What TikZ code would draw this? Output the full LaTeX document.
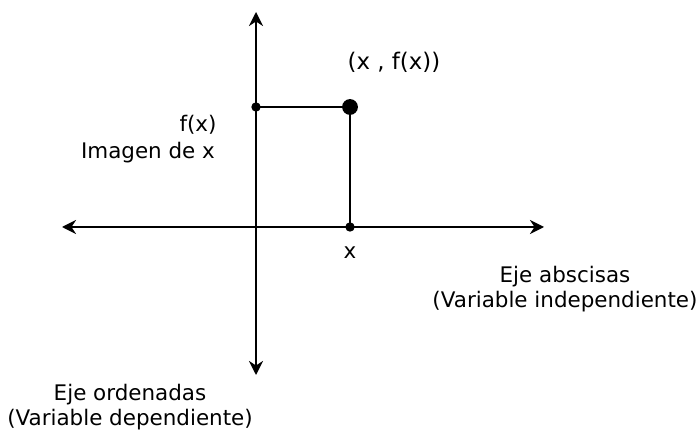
\documentclass[tikz,border=0pt]{standalone}
\usepackage{fontspec}
\setmainfont{DejaVu Sans}
\usetikzlibrary{arrows.meta,positioning}
\tikzset{
  axis/.style={line width=1.6pt, -{Stealth[length=12pt,width=12pt]}},
  guide/.style={line width=1.6pt},
  dotsmall/.style={circle, fill=black, inner sep=0pt, minimum size=8pt},
  dotbig/.style={circle, fill=black, inner sep=0pt, minimum size=13.5pt},
  lbl/.style={font=\fontsize{18.3}{22}\selectfont, align=center, inner sep=1pt}
}
\begin{document}
\begin{tikzpicture}[x=0.03cm,y=-0.03cm]
  \useasboundingbox (0,0) rectangle (699,432);
  % ejes
  \coordinate (O) at (256,227);
  \coordinate (ytop) at (256,12);
  \coordinate (ybot) at (256,375);
  \coordinate (xleft) at (62,227);
  \coordinate (xright) at (544,227);
  \draw[axis] (O) -- (ytop);
  \draw[axis] (O) -- (ybot);
  \draw[axis] (O) -- (xleft);
  \draw[axis] (O) -- (xright);
  % punto y proyecciones
  \node[dotsmall] (fxdot) at (256,107) {};
  \node[dotbig] (pt) at (350,107) {};
  \node[dotsmall] (xdot) at (350,227) {};
  \draw[guide] (fxdot.center) -- (pt.center) -- (xdot.center);
  % etiquetas
  \node[lbl, font=\fontsize{19.5}{22}\selectfont] (ptlbl) at (394,62) {(x , f(x))};
  \node[lbl] (fxlbl) at (198,125) {f(x)};
  \node[lbl] (imglbl) at (148,153) {Imagen de x};
  \node[lbl] (xlbl) at (350,253) {x};
  \node[lbl] (abslbl) at (565,289) {Eje abscisas\\(Variable independiente)};
  \node[lbl] (ordlbl) at (130,407) {Eje ordenadas\\(Variable dependiente)};
\end{tikzpicture}
\end{document}
